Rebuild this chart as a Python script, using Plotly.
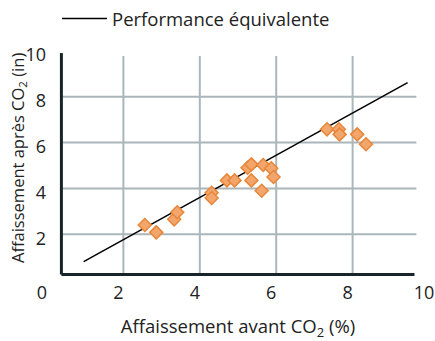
import plotly.graph_objects as go

# Data
avant_co2 = [2.56, 2.86, 3.33, 3.41, 4.31, 4.31, 4.71, 4.91, 5.25, 5.35,
             5.35, 5.62, 5.66, 5.87, 5.93, 7.33, 7.64, 7.66, 8.12, 8.35]
apres_co2 = [2.40, 2.08, 2.65, 2.96, 3.81, 3.58, 4.35, 4.35, 4.90, 5.05,
             4.35, 3.90, 5.02, 4.88, 4.50, 6.58, 6.58, 6.36, 6.36, 5.93]
ligne_x = [0.96, 9.44]
ligne_y = [0.80, 8.62]
tick_vals = [0, 2, 4, 6, 8, 10]
tick_text = ["0", "2", "4", "6", "8", "10"]
grid_vals = [2, 4, 6, 8]

FONT = "Open Sans"
GRID = "#aab6ba"
AXIS = "#18232a"
TXT = "#222222"

fig = go.Figure()

fig.add_trace(go.Scatter(
    x=ligne_x, y=ligne_y, mode="lines",
    line=dict(color="black", width=1.5),
    name="Performance équivalente", showlegend=True))

fig.add_trace(go.Scatter(
    x=avant_co2, y=apres_co2, mode="markers",
    marker=dict(symbol="diamond", size=10, color="#f2a66c",
                line=dict(color="#e8863a", width=1.5)),
    showlegend=False))

shapes = []
x_lo, x_hi = 0.377, 9.67
y_lo, y_hi = 0.24, 9.78
for g in grid_vals:
    shapes.append(dict(type="line", xref="x", yref="y", x0=g, x1=g, y0=y_lo, y1=y_hi,
                       line=dict(color=GRID, width=2), layer="below"))
    shapes.append(dict(type="line", xref="x", yref="y", x0=x_lo, x1=x_hi, y0=g, y1=g,
                       line=dict(color=GRID, width=2), layer="below"))
shapes.append(dict(type="line", xref="x", yref="y", x0=x_lo, x1=x_lo, y0=y_lo, y1=9.91,
                   line=dict(color=AXIS, width=3), layer="below"))
shapes.append(dict(type="line", xref="x", yref="y", x0=x_lo, x1=9.62, y0=y_lo, y1=y_lo,
                   line=dict(color=AXIS, width=3), layer="below"))

fig.update_layout(
    width=435, height=341,
    margin=dict(l=47, r=6, t=51, b=61, autoexpand=False),
    paper_bgcolor="white", plot_bgcolor="white",
    font=dict(family=FONT, color=TXT),
    shapes=shapes,
    showlegend=True,
    legend=dict(xref="container", yref="container", x=57 / 435, y=1.0,
                xanchor="left", yanchor="top",
                font=dict(size=18.5, family=FONT, color=TXT),
                bgcolor="rgba(0,0,0,0)", itemwidth=45),
    annotations=[dict(text="Affaissement après CO<sub>2</sub> (in)", textangle=-90,
                      xref="paper", yref="paper", x=(18 - 47) / 382, y=(280 - 158) / 229,
                      xanchor="center", yanchor="middle", showarrow=False,
                      font=dict(size=16.5, family=FONT, color=TXT))],
    xaxis=dict(range=[0, 10], showgrid=False, zeroline=False, showline=False,
               automargin=True,
               tickvals=tick_vals, ticktext=tick_text, ticks="",
               tickfont=dict(size=18, family=FONT, color=TXT),
               ticklabelshift=-5,
               title=dict(text="Affaissement avant CO<sub>2</sub> (%)",
                          font=dict(size=18.5, family=FONT, color=TXT), standoff=22)),
    yaxis=dict(range=[0, 10], showgrid=False, zeroline=False, showline=False,
               automargin=False,
               tickvals=tick_vals[1:], ticktext=tick_text[1:], ticks="",
               tickfont=dict(size=18, family=FONT, color=TXT),
               ticklabelshift=4),
)

fig.write_html("out.html", config={"displayModeBar": False},
               post_script="document.body.style.margin='0';document.body.style.padding='0';")
